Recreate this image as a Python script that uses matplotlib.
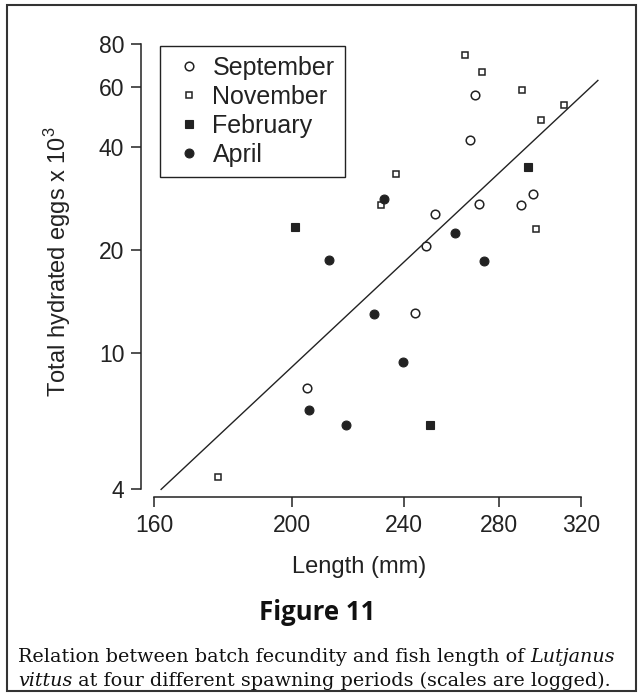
import numpy as np
import matplotlib
matplotlib.use("Agg")
import matplotlib.pyplot as plt
from matplotlib.patches import Rectangle
from matplotlib.ticker import FixedLocator, NullLocator, FixedFormatter

plt.rcParams["font.family"] = ["Liberation Sans", "DejaVu Sans"]
plt.rcParams["mathtext.fontset"] = "custom"
plt.rcParams["mathtext.rm"] = "Liberation Sans"

# Batch fecundity (eggs x 10^3) against fork length (mm) by spawning period
sep_len = [269.6, 267.2, 296.3, 271.4, 290.5, 252.3, 248.7, 244.6, 205.1]
sep_eggs = [56.8, 42.0, 29.2, 27.3, 27.1, 25.5, 20.6, 13.1, 7.9]

nov_len = [265.3, 272.7, 290.8, 311.2, 300.0, 237.1, 231.2, 297.5, 177.4]
nov_eggs = [74.5, 66.3, 58.8, 53.1, 48.0, 33.3, 27.0, 23.0, 4.34]

feb_len = [293.8, 201.1, 250.3]
feb_eggs = [34.9, 23.3, 6.17]

apr_len = [232.4, 260.8, 212.7, 228.5, 239.7, 205.9, 218.6, 273.5]
apr_eggs = [28.2, 22.4, 18.7, 13.0, 9.44, 6.82, 6.17, 18.6]

# log10(eggs) = fit_intercept + fit_slope * log10(length)
fit_intercept = -7.960
fit_slope = 3.876
fit_len_range = (161.8, 329.0)

x_ticks = [160, 200, 240, 280, 320]
y_ticks = [4, 10, 20, 40, 60, 80]

W, H = 642, 694
fig = plt.figure(figsize=(W / 100, H / 100), dpi=100)
fig.patch.set_facecolor("white")

def px(x, y):
    return x / W, 1 - y / H

ax_left, ax_right, ax_top, ax_bottom = 141, 609, 35, 497
ax = fig.add_axes([ax_left / W, 1 - ax_bottom / H,
                   (ax_right - ax_left) / W, (ax_bottom - ax_top) / H])
ax.set_xscale("log")
ax.set_yscale("log")
ax.set_xlim(156.6, 335)
ax.set_ylim(3.8, 85)

ink = "#222222"

# regression line
lx = np.array(fit_len_range)
ly = 10 ** (fit_intercept + fit_slope * np.log10(lx))
ax.plot(lx, ly, color=ink, lw=1.0, zorder=2)

ax.plot(sep_len, sep_eggs, "o", ls="none", ms=6.2, mfc="white", mec=ink,
        mew=1.1, label="September", zorder=3)
ax.plot(nov_len, nov_eggs, "s", ls="none", ms=4.6, mfc="white", mec=ink,
        mew=1.1, label="November", zorder=3)
ax.plot(feb_len, feb_eggs, "s", ls="none", ms=5.2, mfc=ink, mec=ink,
        mew=0.8, label="February", zorder=3)
ax.plot(apr_len, apr_eggs, "o", ls="none", ms=6.4, mfc=ink, mec=ink,
        mew=0.8, label="April", zorder=3)

# axes styling: detached spines limited to the tick range
for s in ("top", "right"):
    ax.spines[s].set_visible(False)
ax.spines["left"].set_bounds(4, 80)
ax.spines["bottom"].set_bounds(160, 320)
for s in ("left", "bottom"):
    ax.spines[s].set_linewidth(1.1)
    ax.spines[s].set_color(ink)

ax.xaxis.set_major_locator(FixedLocator(x_ticks))
ax.xaxis.set_major_formatter(FixedFormatter([str(v) for v in x_ticks]))
ax.xaxis.set_minor_locator(NullLocator())
ax.yaxis.set_major_locator(FixedLocator(y_ticks))
ax.yaxis.set_major_formatter(FixedFormatter([str(v) for v in y_ticks]))
ax.yaxis.set_minor_locator(NullLocator())
ax.tick_params(axis="both", direction="out", length=7, width=1.1,
               color=ink, labelsize=16.5, labelcolor=ink, pad=5)

leg = ax.legend(loc="upper left", bbox_to_anchor=px(160, 46),
                bbox_transform=fig.transFigure, borderaxespad=0,
                fontsize=18, frameon=True, fancybox=False, shadow=False,
                framealpha=1, edgecolor=ink, handlelength=1.5,
                handletextpad=0.2, borderpad=0.4, labelspacing=0.2,
                numpoints=1)
leg.get_frame().set_linewidth(1.0)
for t in leg.get_texts():
    t.set_color(ink)

fig.text(*px(58, 262), "Total hydrated eggs x 10$^3$", rotation=90,
         ha="center", va="center", fontsize=17, color=ink)
fig.text(*px(359, 567), "Length (mm)", ha="center", va="center",
         fontsize=17, color=ink)
fig.text(*px(317, 612), "Figure 11", ha="center", va="center",
         fontsize=18.5, fontweight="bold", family=["Open Sans", "DejaVu Sans"],
         color="#111111")

# caption with italic species name, laid out piece by piece
fig.canvas.draw()
renderer = fig.canvas.get_renderer()
cap_lines = [
    [("Relation between batch fecundity and fish length of ", "normal"),
     ("Lutjanus", "italic")],
    [("vittus", "italic"),
     (" at four different spawning periods (scales are logged).", "normal")],
]
cap_y = [657, 681]
for parts, yy in zip(cap_lines, cap_y):
    x0 = 18
    for txt, style in parts:
        t = fig.text(*px(x0, yy), txt, ha="left", va="center", fontsize=13.8,
                     family=["DejaVu Serif"], style=style, color="#111111")
        bb = t.get_window_extent(renderer=renderer)
        x0 += bb.width

# outer frame
fig.add_artist(Rectangle(px(7, 691), 629 / W, 686 / H,
                         transform=fig.transFigure, fill=False,
                         edgecolor="#333333", lw=1.5))

fig.savefig("out.png", dpi=100, facecolor="white")
